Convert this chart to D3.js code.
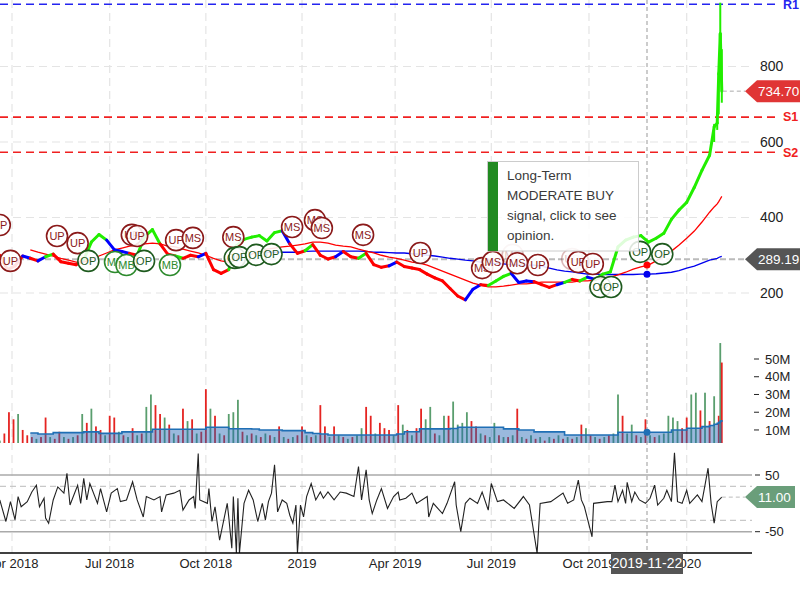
<!DOCTYPE html>
<html>
<head>
<meta charset="utf-8">
<script src="https://cdn.jsdelivr.net/npm/d3@7"></script>
<style>
  body { margin: 0; background: #fff; }
  svg { display: block; font-family: Arial, "Liberation Sans", sans-serif; }
</style>
</head>
<body>
<svg id="chart" width="800" height="600"></svg>
<script>
// ---- data ----
// x is a trading-day index, 0 = first trading day of Apr 2018
var xTickIdx = [0, 64, 127, 190, 251, 314, 378, 442];
var xTickLabels = ['Apr 2018', 'Jul 2018', 'Oct 2018', '2019', 'Apr 2019', 'Jul 2019', 'Oct 2019', '2020'];

// weekly closes, one every 5 trading days starting at index -8
var priceStartIdx = -8, priceStep = 5;
var weeklyClose = [300, 262, 272, 298, 292, 285, 296, 303, 283, 279,
  275, 288, 335, 355, 340, 315, 310, 305, 300, 350,
  368, 330, 303, 298, 292, 300, 296, 305, 262, 252,
  262, 325, 342, 348, 352, 338, 360, 365, 330, 305,
  312, 328, 300, 290, 296, 310, 296, 292, 305, 275,
  268, 272, 282, 270, 266, 262, 250, 240, 232, 212,
  192, 182, 210, 222, 220, 232, 244, 252, 228, 232,
  230, 222, 215, 222, 228, 236, 232, 242, 236, 250,
  256, 322, 340, 348, 352, 335, 345, 358, 395, 420,
  440, 480, 525, 565];
// trend colour runs (r = down, b = neutral, g = up)
var trendRuns = [[4, 'r'], [1, 'b'], [1, 'r'], [1, 'b'], [1, 'g'], [4, 'r'], [3, 'g'], [3, 'b'], [1, 'r'], [3, 'g'],
  [2, 'r'], [1, 'g'], [2, 'r'], [1, 'b'], [3, 'r'], [7, 'g'], [1, 'b'], [2, 'r'], [1, 'g'], [3, 'r'],
  [1, 'b'], [2, 'r'], [1, 'g'], [3, 'r'], [1, 'b'], [9, 'r'], [2, 'b'], [1, 'r'], [3, 'g'], [3, 'b'],
  [3, 'r'], [1, 'b'], [1, 'g'], [1, 'r'], [1, 'g'], [1, 'b'], [15, 'g']];
// last days, daily
var tailIdx = [460, 462, 463, 464, 465];
var tailClose = [640, 650, 780, 887, 734.7];
var tailHigh = [648, 655, 786, 969, 846];
var tailLow = [600, 632, 673, 834, 704];

// moving averages on the same points (weekly + tail)
var ma50 = [null, null, null, null,
  314, 308, 303, 298, 292, 287, 282, 282, 290, 298,
  306, 314, 319, 324, 327, 330, 332, 330, 324, 322,
  316, 311, 306, 300, 292, 285, 282, 285, 292, 303,
  311, 316, 319, 322, 324, 327, 330, 335, 335, 332,
  327, 324, 322, 316, 311, 306, 300, 295, 292, 287,
  282, 279, 274, 266, 258, 250, 242, 234, 226, 221,
  216, 216, 218, 221, 224, 224, 226, 229, 229, 229,
  229, 229, 232, 232, 234, 240, 242, 248, 255, 263,
  269, 274, 285, 298, 311, 327, 345, 364, 388, 414,
  428, 436, 442, 449, 456];
var ma200 = [null, null, null, null, null, null, null, null, null, null,
  null, null, null, null, null, null, null, null, null, null,
  null, null, null, null, null, null, null, null, null, null,
  null, null, null, null,
  306, 308, 308, 308, 308, 308, 310, 311, 311, 311,
  311, 311, 311, 311, 310, 308, 308, 307, 306, 306,
  304, 303, 300, 298, 295, 292, 290, 287, 285, 282,
  279, 278, 277, 275, 274, 274, 274, 271, 266, 261,
  258, 256, 253, 250, 250, 249, 249, 249, 249, 249,
  250, 250, 251, 253, 255, 259, 266, 271, 279, 287,
  290, 292, 294, 296, 297];

// volume (millions), one bar every 3 trading days from index -8
var volStartIdx = -8, volStep = 3;
var volume = [4, 8, 20, 16, 19, 10, 7, 6, 5, 6,
  17, 6, 5, 9, 6, 5, 6, 7, 19, 14,
  22, 12, 10, 7, 18, 17, 9, 7, 6, 11,
  7, 8, 23, 30, 24, 19, 17, 13, 8, 7,
  22, 15, 16, 8, 9, 33, 22, 18, 8, 7,
  19, 20, 27, 9, 7, 8, 7, 6, 8, 7,
  6, 12, 6, 5, 6, 7, 12, 7, 6, 7,
  24, 12, 6, 12, 7, 6, 5, 6, 7, 11,
  23, 18, 8, 14, 11, 10, 7, 24, 13, 10,
  7, 11, 22, 16, 23, 8, 7, 18, 18, 26,
  13, 14, 20, 15, 12, 8, 7, 6, 14, 7,
  6, 6, 7, 22, 6, 5, 7, 5, 6, 4,
  6, 5, 7, 5, 6, 5, 6, 13, 11, 7,
  6, 5, 6, 7, 8, 30, 18, 8, 13, 7,
  6, 16, 7, 6, 7, 8, 18, 17, 15, 11,
  17, 30, 31, 21, 31, 15, 29, 18];
var volTrend = ['grrrgrrrgr', 'rgrrgrgrgr', 'grrgrrgrgr', 'grggrrgrgr', 'rgrgrrgrgr',
  'gggrgrgrgr', 'grgrgrrgrg', 'rrgrgrgrgg', 'rrgrrrgrgr', 'grrggrggrg',
  'gggrrgrggr', 'grgrgrgrgr', 'grgrgrgrgr', 'grgrggrggr', 'grgrgggggr', 'rggrgrgr'].join('');
var volTailIdx = [464, 465];
var volTail = [59, 48];
var volTailTrend = 'gr';
// 50-day volume average, on the price points
var volMa = [null, null, null, null,
  8.3, 7.7, 7.7, 8.5, 8.5, 8.5, 8.5, 8.9, 8.9, 8.1,
  8.1, 8.1, 8.9, 8.9, 8.9, 8.9, 10.4, 10.4, 10.4, 10.4,
  10.4, 10.4, 10.4, 11.5, 11.5, 11.5, 10.7, 10.7, 10.7, 10.5,
  10, 10, 10, 9.6, 9.6, 9.6, 8.5, 8, 7.7, 7.2,
  7.2, 7.2, 7.2, 7.2, 7.2, 7.2, 7.2, 7.2, 7.7, 9,
  9, 10.6, 10.6, 10.6, 10.6, 10.8, 11.5, 11.5, 11.5, 11.5,
  11.5, 11.5, 10.6, 10.6, 10, 10, 8.9, 8.9, 8.9, 8.9,
  7.2, 7.2, 7.2, 7.2, 7.2, 7.2, 7.2, 8.7, 8.7, 8.7,
  8.7, 8.7, 8.7, 8.7, 10, 10, 11, 11, 11.9, 12.5,
  13.2, 13.8, 14.3, 15, 15.6];

// oscillator turning points
var oscIdx = [-8, -4, -1, 2, 4, 6, 10, 13, 16, 18, 21, 22, 24, 27, 30, 34, 36, 38, 43, 45,
  47, 49, 51, 56, 58, 62, 65, 69, 71, 75, 79, 82, 86, 88, 93, 97, 98, 101, 106, 110,
  112, 116, 119, 120, 122, 123, 128, 129, 131, 133, 136, 141, 142, 144, 145, 147, 148, 149, 152, 155,
  158, 161, 164, 166, 168, 170, 172, 174, 177, 180, 182, 184, 186, 187, 189, 191, 193, 196, 199, 202,
  204, 207, 211, 215, 219, 224, 227, 229, 232, 234, 236, 239, 242, 246, 250, 253, 254, 258, 262, 265,
  272, 273, 276, 282, 285, 290, 291, 294, 297, 300, 305, 308, 312, 314, 318, 322, 329, 335, 339, 344,
  346, 353, 361, 364, 368, 371, 373, 375, 380, 381, 390, 393, 395, 397, 400, 402, 403, 406, 408, 411,
  415, 418, 421, 423, 427, 429, 432, 434, 436, 439, 442, 444, 449, 452, 454, 456, 458, 460, 462, 465];
var oscVal = [6, -32, 3, -29, 12, -6, 3, 20, 32, -6, 9, -26, -35, 6, 29, 18, 53, -3, 32, 0,
  44, 6, 35, 0, 26, -15, 18, 26, 3, 6, 38, 6, -24, 12, 6, 12, -15, 15, 18, 23,
  -12, 6, 12, -9, 88, 6, 0, 26, -32, -6, -65, 0, -24, -79, 12, -88, 9, -88, 0, 23,
  6, -32, 0, -29, 3, 18, 68, -15, 6, 0, -21, -35, -3, -88, -3, -24, 12, 35, 6, 20,
  9, 20, 6, 20, 18, 12, 65, 6, 59, 6, -18, 6, 26, -9, 12, 20, 6, 9, 18, 0,
  12, -24, 0, -18, 0, 38, -3, -50, 0, 9, 0, 20, -12, 35, 3, 6, -9, 12, -3, -88,
  0, 3, 18, 0, 6, 41, 6, -6, -59, 0, 3, 3, 32, 3, 23, 0, 37, 3, 20, 6,
  0, 9, 32, -3, 9, 23, 3, 89, 3, 0, 23, 0, 15, 3, 32, 62, 0, -35, 3, 11];

// signal markers
var markerIdx = [-8, -1, 29.5, 43, 50, 67.5, 75, 78.5, 82, 86.5, 103.5, 107.5, 118.5, 145, 146, 149, 160, 170,
  183.5, 198.5, 203, 230, 267.5, 308, 315, 328, 331, 344.5, 367, 371, 380.5, 385.5, 392.5, 411.5, 426];
var markerVal = [380, 285, 351, 332, 285, 282, 274, 354, 351, 285, 274, 340, 346, 348, 293, 295, 301, 303,
  375, 393, 372, 354, 306, 266, 282, 301, 279, 274, 290, 282, 277, 216, 216, 309, 303];
var markerLabel = ['UP', 'UP', 'UP', 'UP', 'OP', 'MB', 'MB', 'UP', 'UP', 'OP', 'MB', 'UP', 'MS', 'MS', 'OP', 'OP', 'OP', 'OP',
  'MS', 'MS', 'MS', 'MS', 'UP', 'MS', 'MS', 'MS', 'MS', 'UP', 'UP', 'UP', 'UP', 'OP', 'OP', 'OP', 'OP'];

// support / resistance
var levelNames = ['R1', 'S1', 'S2'];
var levelValues = [965, 666, 573];

var priceTicks = [200, 400, 600, 800];
var volTicks = [10, 20, 30, 40, 50];
var oscTicks = [50, -50];

var lastClose = 734.70;
var lastOsc = 11.00;
var crossIdx = 416, crossDate = '2019-11-22', crossPrice = 289.19;
var crossMa50 = 274, crossMa200 = 250, crossVolMa = 8.7;
var tipLines = ['Long-Term', 'MODERATE BUY', 'signal, click to see', 'opinion.'];

// ---- drawing ----
var svg = d3.select('#chart');
var plotRight = 752, axisY = 553, volBottom = 443;

var x = d3.scaleLinear().domain([0, 416]).range([12, 647]);
var yP = d3.scaleLinear().domain([200, 800]).range([293, 66.5]);
var yV = d3.scaleLinear().domain([0, 50]).range([447.7, 359]);
var yO = d3.scaleLinear().domain([-50, 50]).range([531.7, 475]);

var COL = {r: '#ff0000', b: '#0000ff', g: '#22ee00'};

var trend = [];
trendRuns.forEach(function(r) { for (var k = 0; k < r[0]; k++) trend.push(r[1]); });

var pts = weeklyClose.map(function(c, i) {
  return {idx: priceStartIdx + priceStep * i, c: c, t: trend[i] || 'g'};
}).concat(tailIdx.map(function(d, j) {
  return {idx: d, c: tailClose[j], t: 'g'};
}));
pts.forEach(function(p, i) {
  p.ma50 = ma50[i];
  p.ma200 = ma200[i];
  p.vma = volMa[i];
});

var defs = svg.append('defs');
function clip(id, x0, y0, w, h) {
  defs.append('clipPath').attr('id', id)
    .append('rect').attr('x', x0).attr('y', y0).attr('width', w).attr('height', h);
}
clip('cPrice', 0, 0, plotRight, 340);
clip('cVol', 0, 330, plotRight, volBottom - 330);
clip('cOsc', 0, 447, plotRight, axisY - 447);

// grid
var grid = svg.append('g');
grid.selectAll('line.v').data(xTickIdx).enter().append('line')
  .attr('x1', function(d) { return x(d); }).attr('x2', function(d) { return x(d); })
  .attr('y1', 0).attr('y2', axisY)
  .attr('stroke', '#e4e4e4').attr('stroke-width', 1.2).attr('stroke-dasharray', '8,5');
grid.selectAll('line.h').data(priceTicks).enter().append('line')
  .attr('x1', 0).attr('x2', plotRight)
  .attr('y1', function(d) { return yP(d); }).attr('y2', function(d) { return yP(d); })
  .attr('stroke', '#e4e4e4').attr('stroke-width', 1.2).attr('stroke-dasharray', '8,5');

// oscillator bands
[50, -50].forEach(function(v) {
  svg.append('line').attr('x1', 0).attr('x2', plotRight).attr('y1', yO(v)).attr('y2', yO(v))
    .attr('stroke', '#aaa').attr('stroke-width', 1.5);
});
[30, -30].forEach(function(v) {
  svg.append('line').attr('x1', 0).attr('x2', plotRight).attr('y1', yO(v)).attr('y2', yO(v))
    .attr('stroke', '#c8c8c8').attr('stroke-width', 1.2).attr('stroke-dasharray', '6,4');
});

// volume bars
var gVol = svg.append('g').attr('clip-path', 'url(#cVol)');
var bars = volume.map(function(v, k) {
  return {idx: volStartIdx + volStep * k, v: v, t: volTrend[k] || 'g'};
}).concat(volTail.map(function(v, j) {
  return {idx: volTailIdx[j], v: v, t: volTailTrend[j]};
}));
gVol.selectAll('rect').data(bars).enter().append('rect')
  .attr('x', function(d) { return x(d.idx) - 0.9; })
  .attr('width', 1.8)
  .attr('y', function(d) { return yV(d.v); })
  .attr('height', function(d) { return volBottom - yV(d.v); })
  .attr('fill', function(d) { return d.t == 'r' ? '#e52421' : '#5a9e6e'; });

var vmaPts = pts.filter(function(p) { return p.vma != null; });
gVol.append('path').datum(vmaPts)
  .attr('d', d3.area().curve(d3.curveStepAfter)
    .x(function(d) { return x(d.idx); })
    .y0(volBottom)
    .y1(function(d) { return yV(d.vma); }))
  .attr('fill', 'rgba(31,100,180,0.45)');
gVol.append('path').datum(vmaPts)
  .attr('d', d3.line().curve(d3.curveStepAfter)
    .x(function(d) { return x(d.idx); })
    .y(function(d) { return yV(d.vma); }))
  .attr('fill', 'none').attr('stroke', '#1f6fb5').attr('stroke-width', 1.6);

// oscillator line
var gOsc = svg.append('g').attr('clip-path', 'url(#cOsc)');
gOsc.append('path').datum(oscIdx.map(function(d, i) { return [d, oscVal[i]]; }))
  .attr('d', d3.line().x(function(d) { return x(d[0]); }).y(function(d) { return yO(d[1]); }))
  .attr('fill', 'none').attr('stroke', '#222').attr('stroke-width', 1.1);

// support / resistance
levelValues.forEach(function(v, i) {
  var c = levelNames[i][0] == 'R' ? '#2424f0' : '#f02020';
  svg.append('line').attr('x1', 0).attr('x2', 775).attr('y1', yP(v)).attr('y2', yP(v))
    .attr('stroke', c).attr('stroke-width', 1.6).attr('stroke-dasharray', '8,5');
  svg.append('text').attr('x', 783).attr('y', yP(v)).attr('dy', '0.35em')
    .attr('font-size', 12.5).attr('font-weight', 'bold').attr('fill', c).text(levelNames[i]);
});

// crosshair
var cy = yP(crossPrice);
svg.append('line').attr('x1', 0).attr('x2', 745).attr('y1', cy).attr('y2', cy)
  .attr('stroke', '#bbb').attr('stroke-width', 2).attr('stroke-dasharray', '6,3');
svg.append('line').attr('x1', x(crossIdx)).attr('x2', x(crossIdx)).attr('y1', 0).attr('y2', axisY)
  .attr('stroke', '#999').attr('stroke-width', 1).attr('stroke-dasharray', '4,3');

// moving averages
var gPrice = svg.append('g').attr('clip-path', 'url(#cPrice)');
gPrice.append('path').datum(pts)
  .attr('d', d3.line().defined(function(d) { return d.ma200 != null; })
    .x(function(d) { return x(d.idx); }).y(function(d) { return yP(d.ma200); }))
  .attr('fill', 'none').attr('stroke', '#0000ee').attr('stroke-width', 1.3);
gPrice.append('path').datum(pts)
  .attr('d', d3.line().defined(function(d) { return d.ma50 != null; })
    .x(function(d) { return x(d.idx); }).y(function(d) { return yP(d.ma50); }))
  .attr('fill', 'none').attr('stroke', '#ff0000').attr('stroke-width', 1.3);

// price, coloured by trend
for (var i = 1; i < pts.length; i++) {
  gPrice.append('line')
    .attr('x1', x(pts[i - 1].idx)).attr('y1', yP(pts[i - 1].c))
    .attr('x2', x(pts[i].idx)).attr('y2', yP(pts[i].c))
    .attr('stroke', COL[pts[i].t]).attr('stroke-width', 3).attr('stroke-linecap', 'round');
}
tailIdx.forEach(function(d, j) {
  gPrice.append('line').attr('x1', x(d)).attr('x2', x(d))
    .attr('y1', yP(tailLow[j])).attr('y2', yP(tailHigh[j]))
    .attr('stroke', COL.g).attr('stroke-width', 2);
});

// crosshair dots
svg.append('circle').attr('cx', x(crossIdx)).attr('cy', yP(crossMa50)).attr('r', 3.5).attr('fill', '#ff0000');
svg.append('circle').attr('cx', x(crossIdx)).attr('cy', yP(crossMa200)).attr('r', 3.5).attr('fill', '#0000ee');
svg.append('circle').attr('cx', x(crossIdx)).attr('cy', yV(crossVolMa)).attr('r', 3.5).attr('fill', '#1f6fb5');

// markers
var dimmed = [25, 28];
var mk = svg.append('g');
markerLabel.forEach(function(lab, i) {
  var c = (lab == 'UP' || lab == 'MS') ? '#8b1a1a' : (lab == 'MB' ? '#2d8a2d' : '#1e5a1e');
  var g = mk.append('g')
    .attr('transform', 'translate(' + x(markerIdx[i]) + ',' + yP(markerVal[i]) + ')')
    .attr('opacity', dimmed.indexOf(i) >= 0 ? 0.3 : 1);
  g.append('circle').attr('r', 10.5).attr('fill', 'rgba(255,255,255,0.88)')
    .attr('stroke', c).attr('stroke-width', 1.6);
  g.append('text').attr('text-anchor', 'middle').attr('dy', '0.36em')
    .attr('font-size', 11).attr('fill', c).text(lab);
});

// tooltip
var tip = svg.append('g');
tip.append('rect').attr('x', 487.5).attr('y', 161.5).attr('width', 151).attr('height', 89.5)
  .attr('fill', 'rgba(255,255,255,0.85)').attr('stroke', '#ccc');
tip.append('rect').attr('x', 488).attr('y', 162).attr('width', 10).attr('height', 89)
  .attr('fill', '#218a21');
tipLines.forEach(function(t, i) {
  tip.append('text').attr('x', 507).attr('y', 180 + i * 20)
    .attr('font-size', 13.5).attr('fill', '#3a3a3a').text(t);
});

// x axis
svg.append('line').attr('x1', 0).attr('x2', plotRight).attr('y1', axisY).attr('y2', axisY)
  .attr('stroke', '#000').attr('stroke-width', 1.5);
svg.selectAll('text.xt').data(xTickIdx).enter().append('text')
  .attr('x', function(d) { return x(d); }).attr('y', 568)
  .attr('text-anchor', 'middle').attr('font-size', 13).attr('fill', '#222')
  .text(function(d, i) { return xTickLabels[i]; });
svg.append('rect').attr('x', x(crossIdx) - 36).attr('y', 553).attr('width', 72).attr('height', 21)
  .attr('fill', '#555');
svg.append('text').attr('x', x(crossIdx)).attr('y', 568).attr('text-anchor', 'middle')
  .attr('font-size', 14).attr('fill', '#fff').text(crossDate);

// right axes
priceTicks.forEach(function(v) {
  svg.append('text').attr('x', 760).attr('y', yP(v)).attr('dy', '0.35em')
    .attr('font-size', 14).attr('fill', '#222').text(v);
});
volTicks.forEach(function(v) {
  svg.append('line').attr('x1', 754).attr('x2', 759).attr('y1', yV(v)).attr('y2', yV(v))
    .attr('stroke', '#222');
  svg.append('text').attr('x', 765).attr('y', yV(v)).attr('dy', '0.35em')
    .attr('font-size', 13).attr('fill', '#222').text(v + 'M');
});
oscTicks.forEach(function(v) {
  svg.append('line').attr('x1', 755).attr('x2', 760).attr('y1', yO(v)).attr('y2', yO(v))
    .attr('stroke', '#222');
  svg.append('text').attr('x', 765).attr('y', yO(v)).attr('dy', '0.35em')
    .attr('font-size', 13).attr('fill', '#222').text(v);
});

// value tags
function tag(cy, text, fill, right) {
  svg.append('path')
    .attr('d', 'M745,' + cy + 'L757,' + (cy - 11) + 'L' + right + ',' + (cy - 11) +
      'L' + right + ',' + (cy + 11) + 'L757,' + (cy + 11) + 'Z')
    .attr('fill', fill);
  svg.append('text').attr('x', 758).attr('y', cy).attr('dy', '0.36em')
    .attr('font-size', 13.5).attr('fill', '#fff').text(text);
}
var lastY = yP(lastClose);
svg.append('line').attr('x1', x(tailIdx[tailIdx.length - 1]) + 1).attr('x2', 745)
  .attr('y1', lastY).attr('y2', lastY).attr('stroke', '#aaa').attr('stroke-dasharray', '4,3');
tag(lastY, lastClose.toFixed(2), '#e03535', 800);
tag(cy, crossPrice.toFixed(2), '#555', 800);
var oscY = yO(lastOsc);
svg.append('line').attr('x1', x(oscIdx[oscIdx.length - 1])).attr('x2', 745)
  .attr('y1', oscY).attr('y2', oscY).attr('stroke', '#bbb').attr('stroke-dasharray', '4,3');
tag(oscY, lastOsc.toFixed(2), '#6a9e7a', 795);
</script>
</body>
</html>
